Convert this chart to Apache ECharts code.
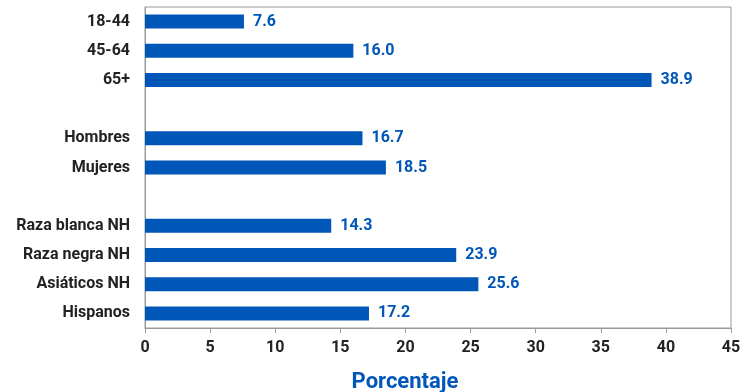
<!DOCTYPE html>
<html>
<head>
<meta charset="utf-8">
<script src="https://cdn.jsdelivr.net/npm/echarts@6/dist/echarts.min.js"></script>
<style>
html,body{margin:0;padding:0;background:#fff;}
#chart{width:753px;height:392px;}
</style>
</head>
<body>
<div id="chart"></div>
<script>
const categories = ['18-44','45-64','65+','','Hombres','Mujeres','','Raza blanca NH','Raza negra NH','Asiáticos NH','Hispanos'];
const values = [7.6, 16.0, 38.9, null, 16.7, 18.5, null, 14.3, 23.9, 25.6, 17.2];
const xTicks = [0,5,10,15,20,25,30,35,40,45];
const axisTitle = 'Porcentaje';

const chart = echarts.init(document.getElementById('chart'));
const blue = '#0057B8';
chart.setOption({
  animation: false,
  textStyle: {fontFamily: 'Roboto'},
  grid: {left: 145, right: 22, top: 7, bottom: 64, show: true, borderColor: '#9a9a9a', borderWidth: 1, backgroundColor: 'transparent', containLabel: false, outerBoundsMode: 'none'},
  xAxis: {
    type: 'value', min: xTicks[0], max: xTicks[xTicks.length-1], interval: 5,
    axisLine: {show: true, lineStyle: {color: '#9a9a9a'}},
    axisTick: {show: true, length: 5, lineStyle: {color: '#9a9a9a'}},
    splitLine: {show: false},
    axisLabel: {color: '#222', fontSize: 16, fontWeight: 'bold', margin: 12, fontFamily: 'Roboto'},
    name: axisTitle, nameLocation: 'middle', nameGap: 43,
    nameTextStyle: {color: blue, fontSize: 22, fontWeight: 'bold', fontFamily: 'Roboto', padding: [0, 66, 0, 0]}
  },
  yAxis: {
    type: 'category', data: categories, inverse: true,
    axisLine: {show: true, lineStyle: {color: '#9a9a9a'}},
    axisTick: {show: false},
    axisLabel: {color: '#222', fontSize: 16, fontWeight: 'bold', margin: 15, fontFamily: 'Roboto'}
  },
  series: [{
    type: 'bar', data: values, barWidth: 14,
    itemStyle: {color: blue},
    label: {show: true, position: 'right', distance: 9, color: blue, fontSize: 16, fontWeight: 'bold', fontFamily: 'Roboto',
      formatter: p => p.value == null ? '' : Number(p.value).toFixed(1)}
  }]
});
</script>
</body>
</html>
